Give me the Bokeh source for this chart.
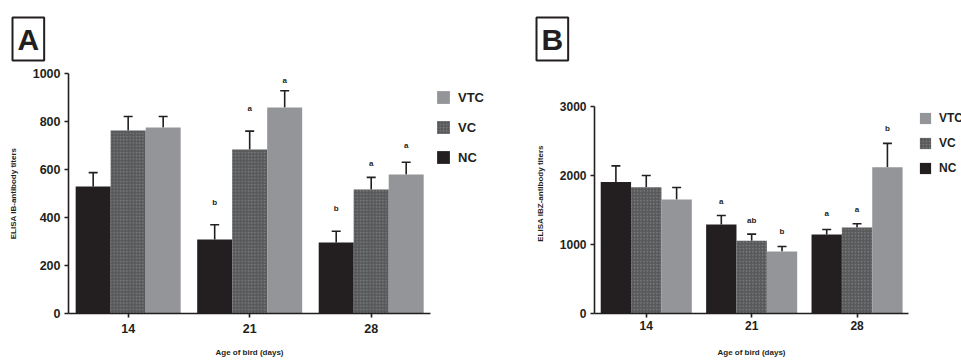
from bokeh.plotting import figure
from bokeh.models import (ColumnDataSource, Whisker, TeeHead, Legend, LegendItem,
                          Title, FixedTicker)
from bokeh.layouts import row
from bokeh.core.properties import value
from bokeh.embed import file_html
from bokeh.resources import INLINE

# ---------------- data ----------------
days = ["14", "21", "28"]
day_pos = [1, 2, 3]
groups = ["NC", "VC", "VTC"]
legend_order = ["VTC", "VC", "NC"]

A_nc = [529, 308, 296]
A_nc_sem = [58, 62, 47]
A_vc = [762, 683, 517]
A_vc_sem = [59, 77, 50]
A_vtc = [775, 858, 579]
A_vtc_sem = [46, 70, 51]
A_nc_letters = ["", "b", "b"]
A_vc_letters = ["", "a", "a"]
A_vtc_letters = ["", "a", "a"]
A_nc_letter_y = [0, 462, 437]
A_vc_letter_y = [0, 854, 625]
A_vtc_letter_y = [0, 971, 700]
A_yticks = [0, 200, 400, 600, 800, 1000]

B_nc = [1905, 1290, 1145]
B_nc_sem = [235, 130, 72]
B_vc = [1830, 1053, 1246]
B_vc_sem = [170, 97, 54]
B_vtc = [1652, 898, 2120]
B_vtc_sem = [175, 72, 345]
B_nc_letters = ["", "a", "a"]
B_vc_letters = ["", "ab", "a"]
B_vtc_letters = ["", "b", "b"]
B_nc_letter_y = [0, 1627, 1454]
B_vc_letter_y = [0, 1348, 1512]
B_vtc_letter_y = [0, 1193, 2681]
B_yticks = [0, 1000, 2000, 3000]

FONT = "Liberation Sans"
DARK = "#231f20"
COL = {"NC": "#231f20", "VC": "#58595b", "VTC": "#939598"}
HATCH = dict(hatch_pattern="dot", hatch_color="#a7a8aa", hatch_scale=3.2,
             hatch_weight=0.7, hatch_alpha=0.5)
BAR_W = 0.288
OFFS = {"NC": -BAR_W, "VC": 0.0, "VTC": BAR_W}
TOP, BOTTOM = 73, 47


def panel(letter, ylabel, ymax, yview, yticks, series, sems, letters, letter_y,
          width, left, tick_font, x_standoff, xlab_standoff, ylab_standoff,
          title_offset):
    p = figure(width=width, height=360, x_range=(0.509, 3.488), y_range=(0, yview),
               output_backend="svg", toolbar_location=None, title=None,
               min_border_left=left, min_border_right=2,
               min_border_top=TOP, min_border_bottom=BOTTOM)
    p.outline_line_color = None
    p.xgrid.visible = False
    p.ygrid.visible = False

    for g in groups:
        xs = [d + OFFS[g] for d in day_pos]
        src = ColumnDataSource(dict(x=xs, top=series[g],
                                    upper=[m + s for m, s in zip(series[g], sems[g])]))
        kw = HATCH if g == "VC" else {}
        p.vbar(x="x", top="top", bottom=0, width=BAR_W, source=src,
               fill_color=COL[g], line_color=None, **kw)
        w = Whisker(base="x", lower="top", upper="upper", source=src,
                    line_color=DARK, line_width=1.6, lower_head=None,
                    upper_head=TeeHead(size=9, line_color=DARK, line_width=1.6))
        p.add_layout(w)
        lx, ly, lt = [], [], []
        for x, yv, t in zip(xs, letter_y[g], letters[g]):
            if t:
                lx.append(x); ly.append(yv); lt.append(t)
        lsrc = ColumnDataSource(dict(x=lx, y=ly, t=lt))
        p.text(x="x", y="y", text="t", source=lsrc, text_align="center",
               text_baseline="middle", text_font=value(FONT), text_font_style="bold",
               text_font_size="8px", text_color=DARK)

    for ax in (p.xaxis[0], p.yaxis[0]):
        ax.axis_line_color = DARK
        ax.axis_line_width = 1.6
        ax.major_tick_line_color = DARK
        ax.major_tick_line_width = 1.6
        ax.major_tick_in = 0
        ax.major_tick_out = 4
        ax.minor_tick_line_color = None
        ax.major_label_text_font = FONT
        ax.major_label_text_font_style = "bold"
        ax.major_label_text_font_size = tick_font
        ax.major_label_text_color = DARK
        ax.axis_label_text_font = FONT
        ax.axis_label_text_font_style = "bold"
        ax.axis_label_text_font_size = "8px"
        ax.axis_label_text_color = DARK
    p.xaxis.ticker = FixedTicker(ticks=day_pos)
    p.xaxis.major_label_overrides = {d: lab for d, lab in zip(day_pos, days)}
    p.xaxis.major_label_standoff = x_standoff
    p.xaxis.axis_label = "Age of bird (days)"
    p.xaxis.axis_label_standoff = xlab_standoff
    p.yaxis.ticker = FixedTicker(ticks=yticks)
    p.yaxis.bounds = (0, ymax)
    p.yaxis.major_label_standoff = 4
    p.yaxis.axis_label = ylabel
    p.yaxis.axis_label_standoff = ylab_standoff

    t = Title(text=letter, align="left", offset=title_offset, standoff=22,
              vertical_align="top",
              text_font=FONT, text_font_style="bold", text_font_size="30px",
              text_color=DARK, border_line_color=DARK, border_line_width=2,
              padding=5, background_fill_color="white")
    p.add_layout(t, "above")
    return p


def legend_fig(width, loc, glyph, spacing, font, series):
    # hidden renderers carrying the series; Bokeh draws their legend entries
    q = figure(width=width, height=360, x_range=(10, 11), y_range=(0, 1),
               output_backend="svg", toolbar_location=None, title=None,
               x_axis_location=None, y_axis_location=None,
               min_border_left=0, min_border_right=0,
               min_border_top=TOP, min_border_bottom=BOTTOM)
    q.outline_line_color = None
    q.xgrid.visible = False
    q.ygrid.visible = False
    items = []
    for g in legend_order:
        kw = HATCH if g == "VC" else {}
        r = q.vbar(x=day_pos, top=series[g], width=BAR_W, fill_color=COL[g],
                   line_color=None, **kw)
        r.visible = False
        items.append(LegendItem(label=g, renderers=[r]))
    leg = Legend(items=items, location=loc, orientation="vertical",
                 glyph_width=glyph, glyph_height=glyph, label_height=glyph,
                 label_standoff=7, spacing=spacing, padding=0, margin=0,
                 border_line_color=None, background_fill_alpha=0,
                 inactive_fill_alpha=0,
                 label_text_font=FONT, label_text_font_style="bold",
                 label_text_font_size=font, label_text_color=DARK)
    q.add_layout(leg, "center")
    return q


# both frames share the same vertical extent; B's axis line is bounded at 3000
B_view = 3000 * 240 / 207

A_series = {"NC": A_nc, "VC": A_vc, "VTC": A_vtc}
B_series = {"NC": B_nc, "VC": B_vc, "VTC": B_vtc}

pA = panel("A", "ELISA IB-antibody titers", 1000, 1000, A_yticks, A_series,
           {"NC": A_nc_sem, "VC": A_vc_sem, "VTC": A_vtc_sem},
           {"NC": A_nc_letters, "VC": A_vc_letters, "VTC": A_vtc_letters},
           {"NC": A_nc_letter_y, "VC": A_vc_letter_y, "VTC": A_vtc_letter_y},
           width=432, left=68, tick_font="12.5px",
           x_standoff=6, xlab_standoff=12, ylab_standoff=12, title_offset=-56)
lA = legend_fig(66, (3, 148), 16, 14, "13px", A_series)

pB = panel("B", "ELISA IBZ-antibody titers", 3000, B_view, B_yticks, B_series,
           {"NC": B_nc_sem, "VC": B_vc_sem, "VTC": B_vtc_sem},
           {"NC": B_nc_letters, "VC": B_vc_letters, "VTC": B_vtc_letters},
           {"NC": B_nc_letter_y, "VC": B_vc_letter_y, "VTC": B_vtc_letter_y},
           width=412, left=96, tick_font="12px",
           x_standoff=3, xlab_standoff=15, ylab_standoff=12, title_offset=-58)
lB = legend_fig(51, (8, 138), 14, 11, "12px", B_series)

layout = row(pA, lA, pB, lB)
open("out.html", "w").write(file_html(layout, INLINE))
